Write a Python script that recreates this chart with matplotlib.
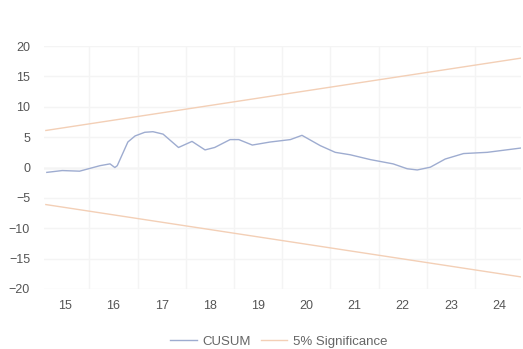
import matplotlib.pyplot as plt
import numpy as np

plt.rcParams['font.family'] = ['Liberation Sans', 'DejaVu Sans']

# CUSUM path (decimal year, value)
cusum_t = [2015.12, 2015.44, 2015.80, 2016.22, 2016.43, 2016.53, 2016.58, 2016.80,
           2016.95, 2017.15, 2017.32, 2017.53, 2017.85, 2018.13, 2018.40, 2018.60,
           2018.92, 2019.10, 2019.38, 2019.75, 2020.17, 2020.41, 2020.79, 2021.10,
           2021.41, 2021.83, 2022.30, 2022.59, 2022.80, 2023.07, 2023.38, 2023.76,
           2024.25, 2024.94]
cusum_v = [-0.8, -0.5, -0.6, 0.3, 0.6, 0.0, 0.3, 4.2,
           5.2, 5.8, 5.9, 5.5, 3.3, 4.3, 2.9, 3.3,
           4.6, 4.6, 3.7, 4.2, 4.6, 5.3, 3.6, 2.5,
           2.1, 1.3, 0.6, -0.2, -0.4, 0.05, 1.4, 2.3,
           2.5, 3.2]

# 5% significance bounds
bound_t = [2015.10, 2024.94]
bound_v = [6.1, 18.0]

years = np.arange(2015, 2025)
year_labels = [str(y % 100) for y in years]
yticks = [-20, -15, -10, -5, 0, 5, 10, 15, 20]

fig = plt.figure(figsize=(5.23, 3.49), dpi=100)
ax = fig.add_axes([0.084, 0.172, 0.913, 0.696])

sig_color = '#f3cfb6'
ax.plot(cusum_t, cusum_v, color='#9eacd0', lw=1.0, label='CUSUM', zorder=3)
ax.plot(bound_t, bound_v, color=sig_color, lw=1.0, label='5% Significance', zorder=2)
ax.plot(bound_t, [-v for v in bound_v], color=sig_color, lw=1.0, zorder=2)

ax.set_xlim(2015.06, 2024.96)
ax.set_ylim(-20, 20)

# labels sit mid-year, grid at year boundaries
ax.set_xticks(years + 0.5)
ax.set_xticklabels(year_labels)
ax.set_xticks(np.arange(2016, 2025), minor=True)
ax.set_yticks(yticks)
ax.tick_params(axis='both', which='both', length=0, labelsize=9, colors='#555555')
ax.tick_params(axis='x', pad=8)
ax.tick_params(axis='y', pad=10)
ax.grid(True, which='minor', axis='x', color='#f4f4f4', lw=1)
ax.grid(True, which='major', axis='y', color='#f4f4f4', lw=1)
ax.axhline(0, color='#e0e0e0', lw=1, zorder=1)
for s in ax.spines.values():
    s.set_visible(False)

fig.legend(loc='lower center', bbox_to_anchor=(0.533, -0.03), ncol=2, frameon=False,
           fontsize=9.5, labelcolor='#666666', handlelength=2.0, handletextpad=0.4,
           columnspacing=0.8)

fig.savefig('out.png', dpi=100)
